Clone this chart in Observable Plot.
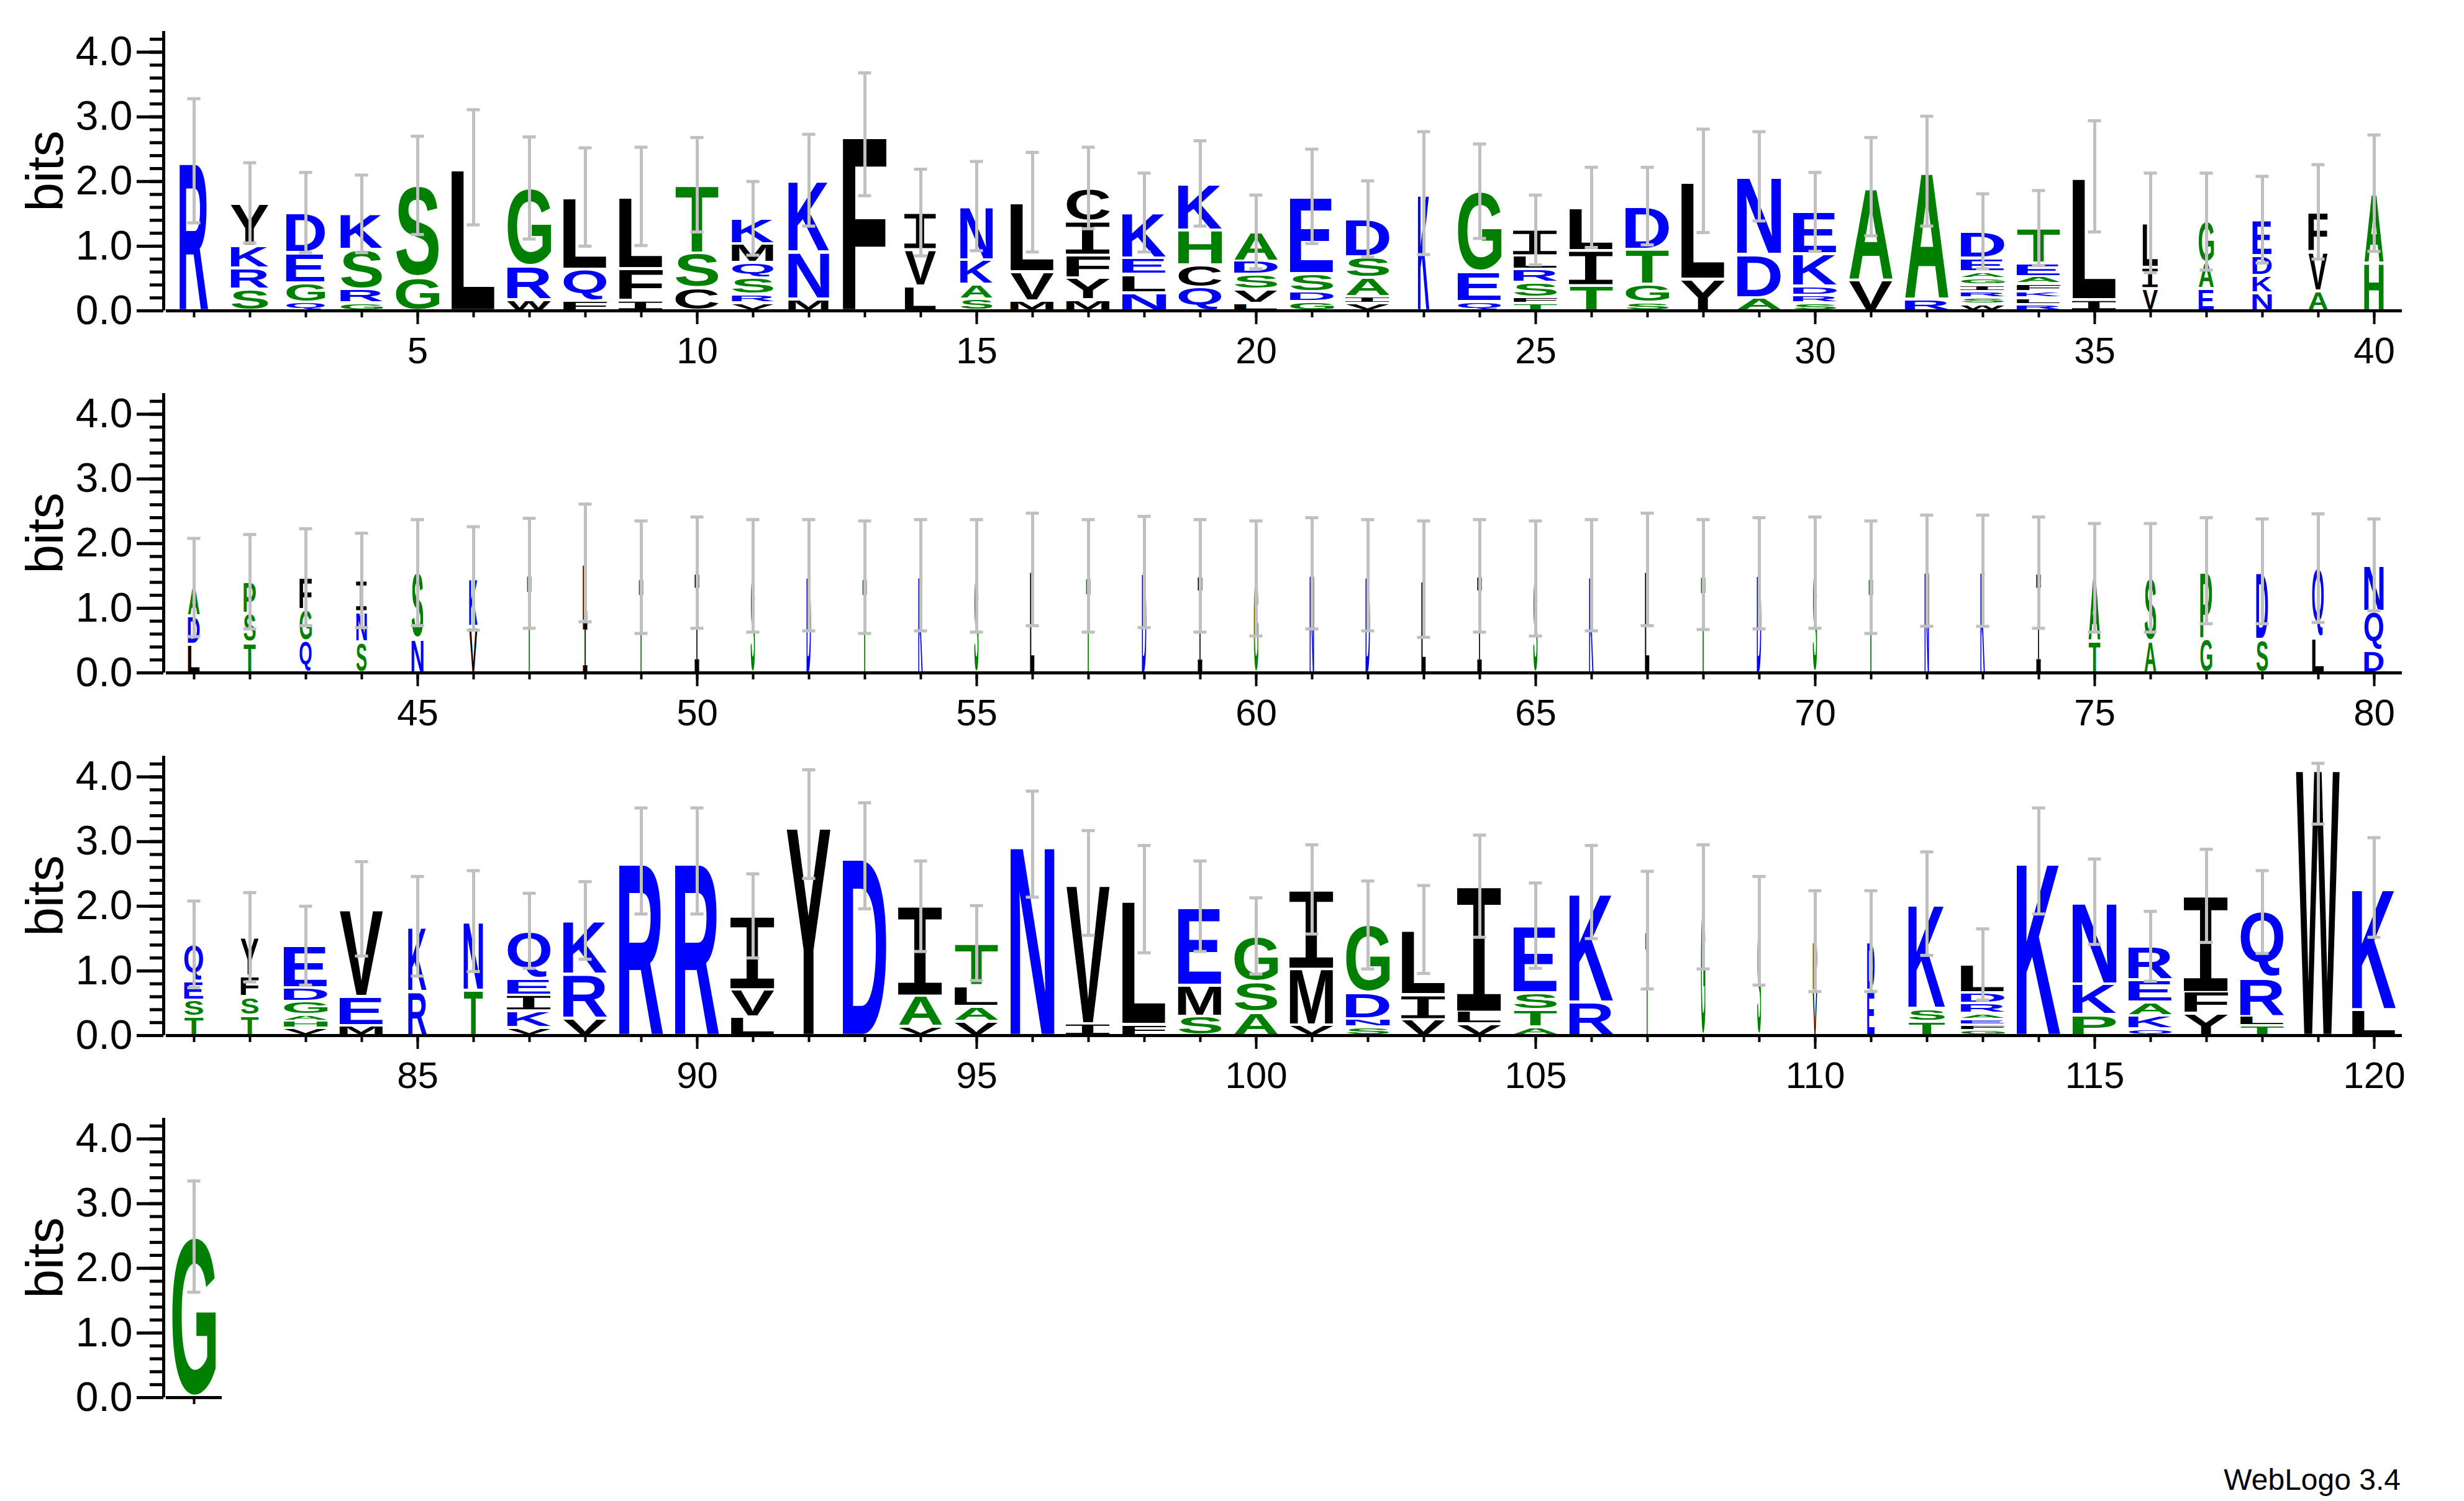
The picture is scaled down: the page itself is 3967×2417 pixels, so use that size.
<!DOCTYPE html>
<html><head><meta charset="utf-8">
<script src="https://cdn.jsdelivr.net/npm/d3@7"></script>
<script src="https://cdn.jsdelivr.net/npm/@observablehq/plot@0.6"></script>
<style>
html,body{margin:0;padding:0;background:#fff;}
#chart{position:relative;width:3967px;height:2417px;background:#fff;font-family:"Liberation Sans",Arial,Helvetica,sans-serif;}
.row{position:absolute;left:0;}
#credit{position:absolute;right:102px;top:2359px;font-size:48px;line-height:1;color:#000;font-family:"Liberation Sans",Arial,Helvetica,sans-serif;}
</style></head><body>
<div id="chart"><div id="credit">WebLogo 3.4</div></div>
<script>
// ---- DATA ----
// Letter stacks per position (1..121), bottom to top: letter followed by its height in bits.
const stacks = [
 "R2.32","S.33 R.33 K.34 Y.67","Q.13 G.30 E.47 D.62","G.12 R.21 S.62 K.55","G.52 S1.42",
 "L2.22","W.17 R.52 G1.21","F.15 Q.49 L1.12","I.16 F.49 L1.12","C.35 S.54 T1.06",
 "V.12 R.13 S.26 Q.24 M.29 K.39","M.18 N.73 K1.11","F2.73","L.38 V.57 I.57","S.18 A.23 K.38 N.83",
 "M.15 V.45 L1.08","M.17 Y.34 F.35 I.52 C.52","N.28 L.28 E.25 K.71","Q.36 C.35 H.54 K.72","L.11 V.22 S.23 D.21 A.45",
 "G.14 D.15 S.28 E1.20","V.11 I.11 A.29 S.32 D.59","K1.82","Q.14 E.47 G1.24","T.11 F.10 S.23 R.20 L.21 I.40",
 "T.39 I.54 L.67","S.13 G.28 T.54 D.67","Y.49 L1.52","A.20 D.67 N1.21","S.12 R.12 D.14 K.50 E.65",
 "V.48 A1.44","R.18 A1.98","W.10 S.10 R.10 I.10 G.10 A.10 E.21 D.42","R.10 L.10 K.10 F.12 A.11 E.21 T.54","I.17 L1.91",
 "V.34 I.33 L.69","E.34 A.40 G.64","N.28 K.27 D.30 E.56","A.31 V.60 F.62","H.74 A1.08",
 "L.44 D.44 A.44","T.47 S.45 P.49","Q.49 G.49 F.50","S.48 N.47 I.48","N.52 S1.03",
 "V.72 K.74","T1.54","I.80 L.90","T1.48","I1.55",
 "S1.50","D1.51","T1.48","K1.51","S1.50",
 "L1.60","T1.50","D1.56","I1.50","G1.46",
 "N1.54","D1.51","L1.45","I1.50","S1.46",
 "K1.51","L1.60","T1.52","D1.54","S1.55",
 "T1.48","N1.58","K1.58","I1.55","T.49 A.98",
 "A.49 S.98","G.53 P1.05","S.52 D1.05","L.54 Q1.08","D.34 Q.61 N.72",
 "T.29 S.26 E.29 Q.57","T.31 S.29 F.32 Y.60","V.11 H.11 A.10 G.21 D.21 E.65","M.15 E.45 V1.36","R.68 K1.01",
 "T.70 N1.07","V.12 K.26 I.24 E.26 Q.74","V.27 R.68 K.83","R2.70","R2.70",
 "L.29 V.43 I1.13","Y3.27","D2.78","V.14 A.48 I1.38","V.22 A.23 L.32 T.66",
 "N2.96","I.18 V2.18","F.17 L1.94","S.30 M.48 E1.22","A.36 S.47 G.71",
 "V.16 M.88 I1.22","S.13 N.13 D.40 G1.05","V.25 I.38 L1.01","V.18 L.20 I1.93","A.13 T.27 S.26 E1.04",
 "R.52 K1.70","T1.63","G1.99","S1.62","V.69 P.77",
 "E.70 D.76","T.22 S.20 K1.62","G.08 F.08 E.09 A.09 R.16 D.16 L.44","K2.70","P.32 K.48 N1.27",
 "Q.10 K.21 A.21 E.34 R.52","Y.34 F.34 I1.48","T.15 L.15 R.59 Q1.02","W4.18","L.40 K1.89",
 "G2.49"
];
// Relative stack width per position (fraction of occupied, non-gap sequences)
const stackWidths = [
 .65,.86,.89,.96,1, 1,1,1,1,1, .96,.93,1,.72,.74, 1,1,1,1,1,
 1,1,.26,1,1, 1,1,1,1,1, 1,1,1,1,1, .35,.35,.44,.44,.44,
 .27,.28,.28,.24,.27, .19,.1,.1,.1,.1, .1,.1,.1,.1,.1, .1,.1,.1,.1,.1,
 .1,.1,.1,.1,.1, .1,.1,.1,.1,.1, .1,.1,.1,.1,.27, .27,.27,.27,.27,.44,
 .44,.41,1,1,.42, .44,1,1,1,1, 1,1,1,1,1, 1,1,1,1,1,
 1,1,1,1,1, 1,.09,.1,.09,.1, .17,.84,1,1,1, 1,1,1,1,1,
 1
];
// Half-length of the error bar around each stack top (bits)
const errors = [
 .96,.62,.62,.60,.76, .89,.79,.76,.76,.73, .57,.71,.95,.67,.69, .77,.63,.61,.66,.57,
 .73,.59,.95,.73,.54, .62,.60,.80,.69,.61, .76,.85,.58,.58,.86, .77,.75,.67,.73,.90,
 .76,.73,.75,.73,.82, .80,.85,.91,.87,.86, .87,.86,.87,.86,.87, .87,.87,.86,.87,.89,
 .86,.86,.90,.87,.89, .86,.87,.85,.86,.86, .87,.86,.86,.86,.84, .84,.82,.81,.84,.71,
 .67,.69,.61,.73,.77, .78,.58,.60,.82,.82, .65,.84,.82,.70,.58, .82,.81,.83,.70,.59,
 .69,.68,.68,.79,.66, .72,.91,.96,.84,.78, .78,.80,.55,.82,.66, .54,.72,.64,.91,.77,
 .86
];
const errorBarCeiling = 4.21;
const xTickLabels = [[5,10,15,20,25,30,35,40],[45,50,55,60,65,70,75,80],[85,90,95,100,105,110,115,120],[]];
const yTickLabels = [0, 1, 2, 3, 4];
// WebLogo "hydrophobicity" colour classes
const hydrophilic = "RKDENQ", neutral = "SGHTAP", hydrophobic = "YVMCLFIW";
const classColors = {hydrophilic: "#0000ff", neutral: "#008000", hydrophobic: "#000000"};

// ---- derived tables ----
const maxBits = Math.log2(20);
const colorOf = l => hydrophilic.includes(l) ? classColors.hydrophilic : neutral.includes(l) ? classColors.neutral : classColors.hydrophobic;
const letters = [], columns = [];
stacks.forEach((s, i) => {
  const pos = i + 1;
  let y = 0;
  s.split(" ").forEach(tok => {
    const letter = tok[0], h = +tok.slice(1);
    letters.push({pos, letter, y0: y, y1: y + h, w: stackWidths[i]});
    y += h;
  });
  columns.push({pos, top: y, lo: y - errors[i], hi: Math.min(y + errors[i], errorBarCeiling)});
});

// ---- glyph drawing (stretch each letter into its rect) ----
const svgNS = "http://www.w3.org/2000/svg";
const mctx = document.createElement("canvas").getContext("2d");
const glyphFamily = l => l === "I" ? "Liberation Mono" : "Liberation Sans";
const glyphWeight = l => l === "I" ? "normal" : "bold";
const mcache = {};
function metrics(l) {
  if (!mcache[l]) {
    mctx.font = `${glyphWeight(l)} 400px "${glyphFamily(l)}"`;
    mctx.textAlign = "left";
    mctx.textBaseline = "alphabetic";
    const m = mctx.measureText(l);
    mcache[l] = {L: m.actualBoundingBoxLeft, R: m.actualBoundingBoxRight, A: m.actualBoundingBoxAscent, D: m.actualBoundingBoxDescent};
  }
  return mcache[l];
}
function glyphify(svg) {
  svg.querySelectorAll('g[aria-label="rect"] rect').forEach(rect => {
    const t = rect.querySelector("title");
    if (!t) return;
    const letter = t.textContent;
    const x = +rect.getAttribute("x"), y = +rect.getAttribute("y");
    const w = +rect.getAttribute("width"), h = +rect.getAttribute("height");
    const pad = Math.min(2.2, h * 0.2);
    const m = metrics(letter);
    const sx = w / (m.L + m.R), sy = (h - 2 * pad) / (m.A + m.D);
    const text = document.createElementNS(svgNS, "text");
    text.textContent = letter;
    text.setAttribute("font-family", glyphFamily(letter));
    text.setAttribute("font-weight", glyphWeight(letter));
    text.setAttribute("font-size", "400");
    text.setAttribute("text-anchor", "start");
    text.setAttribute("dominant-baseline", "alphabetic");
    text.setAttribute("fill", rect.getAttribute("fill"));
    if (letter === "I") {
      text.setAttribute("stroke", rect.getAttribute("fill"));
      text.setAttribute("stroke-width", "6");
    }
    text.setAttribute("transform", `translate(${x},${y + pad}) scale(${sx},${sy}) translate(${m.L},${m.A})`);
    rect.replaceWith(text);
  });
}

// ---- plots, one per line of 40 positions ----
const chart = document.getElementById("chart");
const perLine = 40, total = stacks.length;
const halfW = 0.394, capHalf = 0.117;
for (let r = 0; r < 4; r++) {
  const start = r * perLine + 1, end = Math.min(r * perLine + perLine, total);
  const L = letters.filter(d => d.pos >= start && d.pos <= end);
  const C = columns.filter(d => d.pos >= start && d.pos <= end);
  const allTicks = d3.range(start, end + 1);
  const plot = Plot.plot({
    width: 3967, height: 583,
    marginLeft: 267, marginRight: 100, marginTop: 50, marginBottom: 83,
    x: {domain: [start - 0.5, start + perLine - 0.5], label: null},
    y: {domain: [0, maxBits], label: null},
    style: {background: "transparent", overflow: "visible", fontFamily: "'Liberation Sans', Arial, Helvetica, sans-serif", color: "#000"},
    marks: [
      Plot.rect(L, {x1: d => d.pos - halfW * d.w, x2: d => d.pos + halfW * d.w, y1: "y0", y2: "y1", fill: d => colorOf(d.letter), title: "letter"}),
      Plot.ruleX(C, {x: "pos", y1: "lo", y2: "hi", stroke: "#c0c0c0", strokeWidth: 5}),
      Plot.ruleY(C, {y: "lo", x1: d => d.pos - capHalf, x2: d => d.pos + capHalf, stroke: "#c0c0c0", strokeWidth: 5}),
      Plot.ruleY(C, {y: "hi", x1: d => d.pos - capHalf, x2: d => d.pos + capHalf, stroke: "#c0c0c0", strokeWidth: 5}),
      Plot.ruleY([{y: 0, a: start - 0.5, b: end + 0.5}], {y: "y", x1: "a", x2: "b", stroke: "#000", strokeWidth: 5}),
      Plot.ruleX([{x: start - 0.5}], {x: "x", y1: () => 0, y2: () => maxBits, dx: -4, stroke: "#000", strokeWidth: 5}),
      Plot.axisY(yTickLabels, {tickSize: 43, tickPadding: 7, fontSize: 66, strokeWidth: 5, dx: -4, tickFormat: d => d.toFixed(1)}),
      Plot.axisY(d3.range(0, 4.3, 0.2), {tickSize: 22, strokeWidth: 5, dx: -4, tickFormat: () => ""}),
      Plot.axisX(allTicks, {tickSize: 11, strokeWidth: 4, tickFormat: () => ""}),
      Plot.axisX(xTickLabels[r], {tickSize: 22, tickPadding: 20, fontSize: 60, strokeWidth: 4, tickFormat: d => String(d)}),
      Plot.text(["bits"], {frameAnchor: "left", rotate: -90, fontSize: 84, textAnchor: "middle", lineAnchor: "bottom", dx: -167})
    ]
  });
  glyphify(plot);
  const wrap = document.createElement("div");
  wrap.className = "row";
  wrap.style.top = Math.round(r * 583.33) + "px";
  wrap.appendChild(plot);
  chart.appendChild(wrap);
}
</script>
</body></html>
